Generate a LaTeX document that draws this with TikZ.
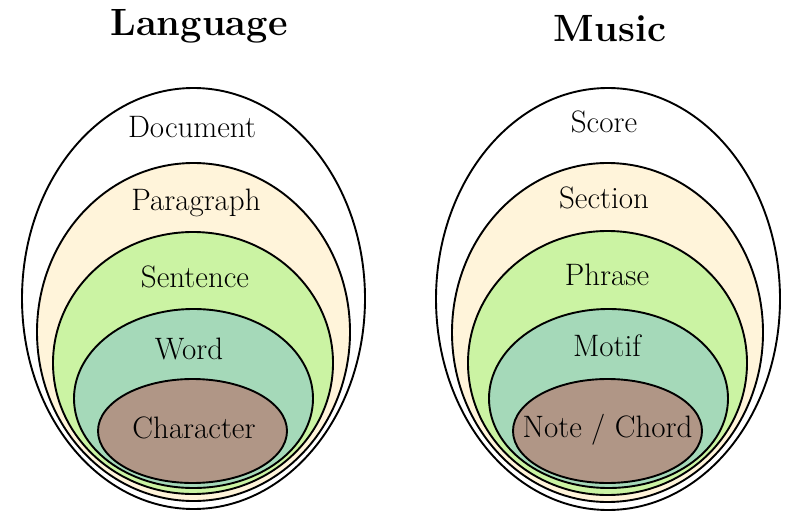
\documentclass[tikz,border=0pt]{standalone}
\usepackage{fontspec}
\definecolor{cream}{HTML}{FFF4DA}
\definecolor{lgreen}{HTML}{CBF3A3}
\definecolor{teal2}{HTML}{A5D9B9}
\definecolor{brown2}{HTML}{B09686}
\tikzset{
  ring/.style={draw=black, line width=1.9pt},
  lbl/.style={anchor=base, font=\fontsize{31}{36}\selectfont, inner sep=0pt},
  ttl/.style={anchor=base, font=\fontsize{38}{44}\selectfont\bfseries, inner sep=0pt}
}
\begin{document}
\begin{tikzpicture}[x=1pt,y=-1pt]
\useasboundingbox (0,0) rectangle (800,532);
% Language
\draw[ring, fill=white]  (193.5,298.5) ellipse [x radius=171.5, y radius=210.5];
\draw[ring, fill=cream]  (193.5,332) ellipse [x radius=156.5, y radius=169];
\draw[ring, fill=lgreen] (193,363) ellipse [x radius=140, y radius=131];
\draw[ring, fill=teal2]  (193.5,398.5) ellipse [x radius=119.5, y radius=89.5];
\draw[ring, fill=brown2] (192.5,431) ellipse [x radius=94.5, y radius=52];
\node[ttl] (tlang) at (199,36) {Language};
\node[lbl] (doc) at (192,138) {Document};
\node[lbl] (par) at (196,210) {Paragraph};
\node[lbl] (sen) at (195,287) {Sentence};
\node[lbl] (wrd) at (189,359) {Word};
\node[lbl] (chr) at (194,438) {Character};
% Music
\draw[ring, fill=white]  (608,299) ellipse [x radius=172, y radius=211];
\draw[ring, fill=cream]  (607.5,332.5) ellipse [x radius=155.5, y radius=169.5];
\draw[ring, fill=lgreen] (607.5,363) ellipse [x radius=139.5, y radius=132];
\draw[ring, fill=teal2]  (608.5,398.5) ellipse [x radius=119.5, y radius=89.5];
\draw[ring, fill=brown2] (607.5,431) ellipse [x radius=94.5, y radius=52];
\node[ttl] (tmus) at (610,42) {Music};
\node[lbl] (sco) at (604,132) {Score};
\node[lbl] (sec) at (604,208) {Section};
\node[lbl] (phr) at (607,285) {Phrase};
\node[lbl] (mot) at (607,356) {Motif};
\node[lbl] (nte) at (607.5,437) {Note / Chord};
\end{tikzpicture}
\end{document}
